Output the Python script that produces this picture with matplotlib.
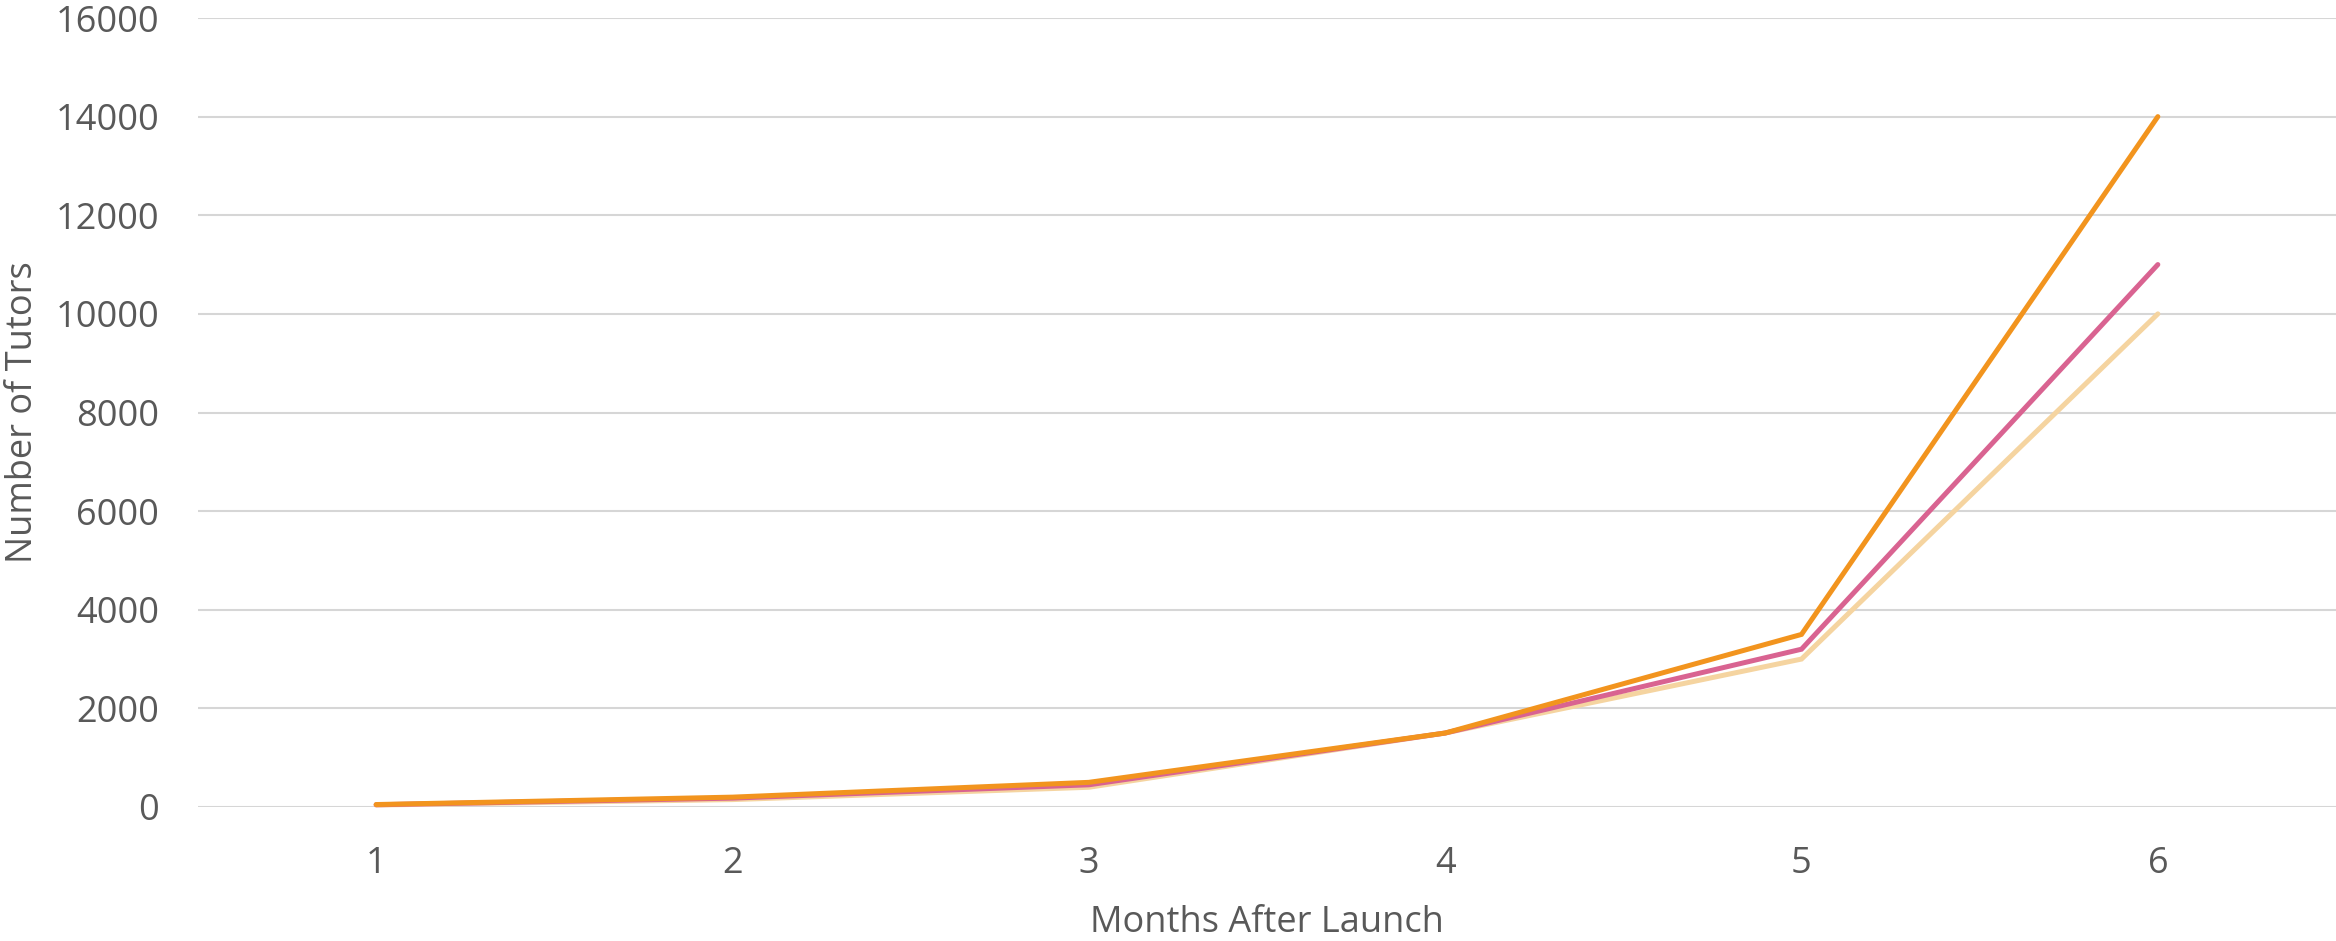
import numpy as np
import matplotlib.pyplot as plt

months = [1, 2, 3, 4, 5, 6]
low = [40, 150, 400, 1500, 3000, 10000]
mid = [45, 180, 450, 1500, 3200, 11000]
high = [50, 200, 500, 1500, 3500, 14000]
y_ticks = [0, 2000, 4000, 6000, 8000, 10000, 12000, 14000, 16000]

plt.rcParams['font.family'] = ['Open Sans', 'DejaVu Sans']
text_col = '#595959'

fig = plt.figure(figsize=(23.36, 9.41), dpi=100)
ax = fig.add_axes([198 / 2336, 1 - 807 / 941, 1 - 198 / 2336, (807 - 18) / 941])

# lignes : la plus claire dessous, l'orange dessus
for vals, col in [(low, '#F5D4A0'), (mid, '#D96391'), (high, '#F2941E')]:
    ax.plot(months, vals, color=col, lw=3.6, solid_capstyle='round',
            solid_joinstyle='miter', clip_on=False)

ax.set_xlim(0.5, 6.5)
ax.set_ylim(0, 16000)
ax.set_xticks(months)
ax.set_yticks(y_ticks)
ax.tick_params(length=0, labelsize=26, labelcolor=text_col)
ax.tick_params(axis='y', pad=28)
ax.tick_params(axis='x', pad=28)

ax.grid(axis='y', color='#D6D6D6', lw=1.5)
ax.set_axisbelow(True)
for s in ax.spines.values():
    s.set_visible(False)

ax.set_xlabel("Months After Launch", fontsize=26, color=text_col)
ax.set_ylabel("Number of Tutors", fontsize=26, color=text_col)
ax.xaxis.set_label_coords(0.5, -0.124)
ax.yaxis.set_label_coords(-0.0735, 0.5)

fig.savefig('out.png', dpi=100)
